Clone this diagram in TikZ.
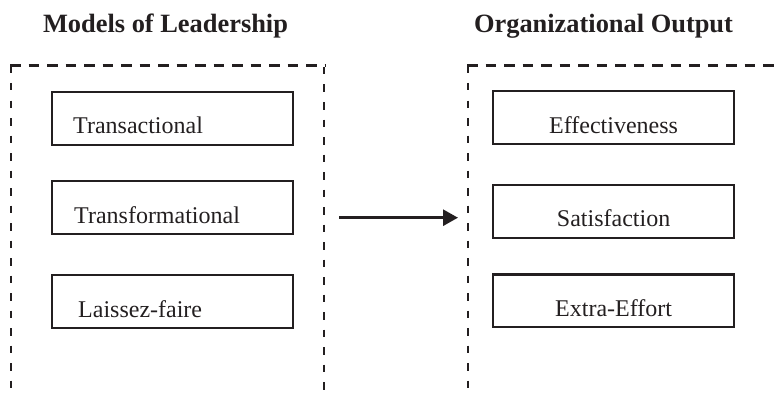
\documentclass[tikz,border=0pt]{standalone}
\usepackage{fontspec}
\setmainfont{Liberation Serif}
\usetikzlibrary{arrows.meta}
\definecolor{ink}{RGB}{35,31,32}
\begin{document}
\begin{tikzpicture}[x=1pt,y=-1pt,
  itembox/.style={draw=ink, line width=2.2pt, minimum width=241pt, minimum height=52.5pt, inner sep=0pt, anchor=north west},
  itemtext/.style={text=ink, font=\fontsize{24}{28}\selectfont, inner sep=0pt},
  titletext/.style={text=ink, font=\fontsize{26.4}{30}\selectfont\bfseries, inner sep=0pt, anchor=base},
  hdash/.style={draw=ink, line width=2.6pt, dash pattern=on 10.5pt off 8pt},
  vdash/.style={draw=ink, line width=2.6pt, dash pattern=on 7.5pt off 10pt},
  flow/.style={draw=ink, line width=2.8pt, -{Triangle[length=15pt,width=16pt]}}
]
\useasboundingbox (0,0) rectangle (774,396);

% titles
\node[titletext] (t1) at (165.5,32.3) {Models of Leadership};
\node[titletext] (t2) at (603.5,32.3) {Organizational Output};

% dashed group frames
\draw[hdash] (10,65.5) -- (325,65.5);
\draw[vdash] (11,65.5) -- (11,396);
\draw[vdash] (324,67) -- (324,396);
\draw[hdash] (467,65.5) -- (774,65.5);
\draw[vdash] (468,65.5) -- (468,396);

% left boxes
\node[itembox] (l1) at (51,91) {};
\node[itembox] (l2) at (51,180) {};
\node[itembox] (l3) at (51,274) {};
\node[itemtext, anchor=base west] at ([shift={(22,-12)}]l1.south west) {Transactional};
\node[itemtext, anchor=base west] at ([shift={(23,-11)}]l2.south west) {Transformational};
\node[itemtext, anchor=base west] at ([shift={(27,-11)}]l3.south west) {Laissez-faire};

% right boxes
\node[itembox] (r1) at (492,90.3) {};
\node[itembox] (r2) at (492,184) {};
\node[itembox] (r3) at (492,273.3) {};
\node[itemtext, anchor=base] at ([yshift=12]r1.south) {Effectiveness};
\node[itemtext, anchor=base] at ([yshift=12]r2.south) {Satisfaction};
\node[itemtext, anchor=base] at ([yshift=12]r3.south) {Extra-Effort};

% connector
\coordinate (leftframe) at (324,217.7);
\coordinate (rightframe) at (468,217.7);
\draw[flow, shorten <=15pt, shorten >=10pt] (leftframe) -- (rightframe);
\end{tikzpicture}
\end{document}
